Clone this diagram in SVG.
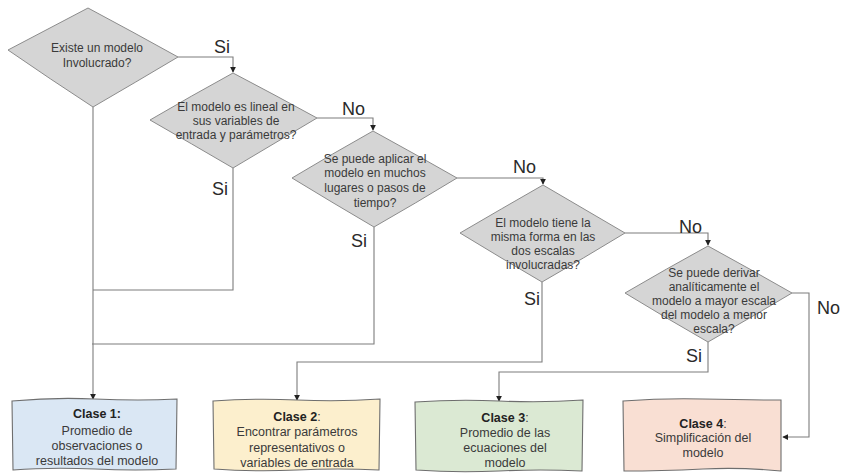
<svg xmlns="http://www.w3.org/2000/svg" width="842" height="475" viewBox="0 0 842 475">
  <defs>
    <marker id="arrow" viewBox="0 0 8 8" refX="7" refY="4" markerWidth="6" markerHeight="6" orient="auto" markerUnits="userSpaceOnUse">
      <path d="M0,0 L8,4 L0,8 Z" fill="#222"/>
    </marker>
    <style>
      .dec { fill: #d5d5d5; stroke: #8c8c8c; stroke-width: 1; }
      .box { stroke: #6e6e6e; stroke-width: 1.1; }
      .c1 { fill: #dae7f4; }
      .c2 { fill: #fcefcd; }
      .c3 { fill: #dbe9d3; }
      .c4 { fill: #f9dfd3; }
      .t { font-family: "Liberation Sans", Arial, sans-serif; font-size: 12px; fill: #3a3a3a; text-anchor: middle; }
      .bt { font-size: 12.5px; }
      .b { font-weight: bold; fill: #222; }
      .lbl { font-family: "Liberation Sans", Arial, sans-serif; font-size: 18px; fill: #2a2a2a; }
      .edge { fill: none; stroke: #7d7d7d; stroke-width: 1.1; }
    </style>
  </defs>
  <rect width="842" height="475" fill="#ffffff"/>

  <!-- connectors -->
  <g id="connectors">
    <path class="edge" d="M178,57 H233 V72" marker-end="url(#arrow)"/>
    <path class="edge" d="M93,107 V399" marker-end="url(#arrow)"/>
    <path class="edge" d="M233,168 V290 H93"/>
    <path class="edge" d="M317,118 H373 V130" marker-end="url(#arrow)"/>
    <path class="edge" d="M374,227 V344 H92"/>
    <path class="edge" d="M457,178 H543 V184" marker-end="url(#arrow)"/>
    <path class="edge" d="M542,282 V362 H297 V400" marker-end="url(#arrow)"/>
    <path class="edge" d="M625,233 H708 V245" marker-end="url(#arrow)"/>
    <path class="edge" d="M708,342 V372 H499 V401" marker-end="url(#arrow)"/>
    <path class="edge" d="M792,293 H809 V437 H783" marker-end="url(#arrow)"/>
  </g>

  <!-- decision labels -->
  <g id="edge-labels">
    <text class="lbl" x="214" y="53">Si</text>
    <text class="lbl" x="342" y="115">No</text>
    <text class="lbl" x="212" y="195">Si</text>
    <text class="lbl" x="513" y="173">No</text>
    <text class="lbl" x="351" y="247">Si</text>
    <text class="lbl" x="679" y="233">No</text>
    <text class="lbl" x="524" y="305">Si</text>
    <text class="lbl" x="686" y="362">Si</text>
    <text class="lbl" x="817" y="314">No</text>
  </g>

  <!-- decisions -->
  <g id="d1">
    <path class="dec" d="M88,8 Q133,32 178,57 Q136,82 93,107 Q50,79 8,50 Q48,29 88,8 Z"/>
    <text class="t" x="97" y="52">Existe un modelo</text>
    <text class="t" x="97" y="67">Involucrado?</text>
  </g>
  <g id="d2">
    <path class="dec" d="M233,73 Q275,95 317,118 Q275,143 233,168 Q192,144 150,120 Q191,96 233,73 Z"/>
    <text class="t" x="236" y="111">El modelo es lineal en</text>
    <text class="t" x="236" y="125">sus variables de</text>
    <text class="t" x="236" y="139">entrada y parámetros?</text>
  </g>
  <g id="d3">
    <path class="dec" d="M373,131 Q415,154 457,178 Q416,203 374,227 Q333,203 292,178 Q332,154 373,131 Z"/>
    <text class="t" x="375" y="163">Se puede aplicar el</text>
    <text class="t" x="375" y="177">modelo en muchos</text>
    <text class="t" x="375" y="192">lugares o pasos de</text>
    <text class="t" x="375" y="207">tiempo?</text>
  </g>
  <g id="d4">
    <path class="dec" d="M543,185 Q584,209 625,233 Q584,258 542,282 Q501,258 460,233 Q501,209 543,185 Z"/>
    <text class="t" x="543" y="227">El modelo tiene la</text>
    <text class="t" x="543" y="241">misma forma en las</text>
    <text class="t" x="543" y="255">dos escalas</text>
    <text class="t" x="543" y="269">involucradas?</text>
  </g>
  <g id="d5">
    <path class="dec" d="M708,246 Q750,269 792,293 Q750,318 708,342 Q666,318 625,293 Q666,269 708,246 Z"/>
    <text class="t" x="714" y="277">Se puede derivar</text>
    <text class="t" x="714" y="291">analíticamente el</text>
    <text class="t" x="714" y="305">modelo a mayor escala</text>
    <text class="t" x="714" y="319">del modelo a menor</text>
    <text class="t" x="714" y="333">escala?</text>
  </g>

  <!-- result classes -->
  <g id="clase1">
    <path class="box c1" d="M12,401 Q55,397 95,399 Q140,401 177,399 L176,469 Q135,471 95,469 Q50,467 13,470 Z"/>
    <text class="t bt b" x="97" y="418">Clase 1:</text>
    <text class="t bt" x="97" y="435">Promedio de</text>
    <text class="t bt" x="97" y="450">observaciones o</text>
    <text class="t bt" x="97" y="465">resultados del modelo</text>
  </g>
  <g id="clase2">
    <path class="box c2" d="M213,401 Q255,398 297,400 Q340,402 380,399 L379,470 Q338,468 297,470 Q255,472 214,469 Z"/>
    <text class="t bt" x="297" y="421"><tspan class="b">Clase 2</tspan>:</text>
    <text class="t bt" x="297" y="436">Encontrar parámetros</text>
    <text class="t bt" x="297" y="452">representativos o</text>
    <text class="t bt" x="297" y="467">variables de entrada</text>
  </g>
  <g id="clase3">
    <path class="box c3" d="M415,402 Q458,399 499,401 Q542,403 583,400 L582,471 Q540,469 499,471 Q456,473 416,470 Z"/>
    <text class="t bt" x="505" y="422"><tspan class="b">Clase 3</tspan>:</text>
    <text class="t bt" x="505" y="437">Promedio de las</text>
    <text class="t bt" x="505" y="452">ecuaciones del</text>
    <text class="t bt" x="505" y="467">modelo</text>
  </g>
  <g id="clase4">
    <path class="box c4" d="M623,401 Q665,398 703,399 Q745,400 781,400 L781,471 Q740,467 703,469 Q660,471 624,471 Z"/>
    <text class="t bt" x="703" y="428"><tspan class="b">Clase 4</tspan>:</text>
    <text class="t bt" x="703" y="442">Simplificación del</text>
    <text class="t bt" x="703" y="457">modelo</text>
  </g>
</svg>
